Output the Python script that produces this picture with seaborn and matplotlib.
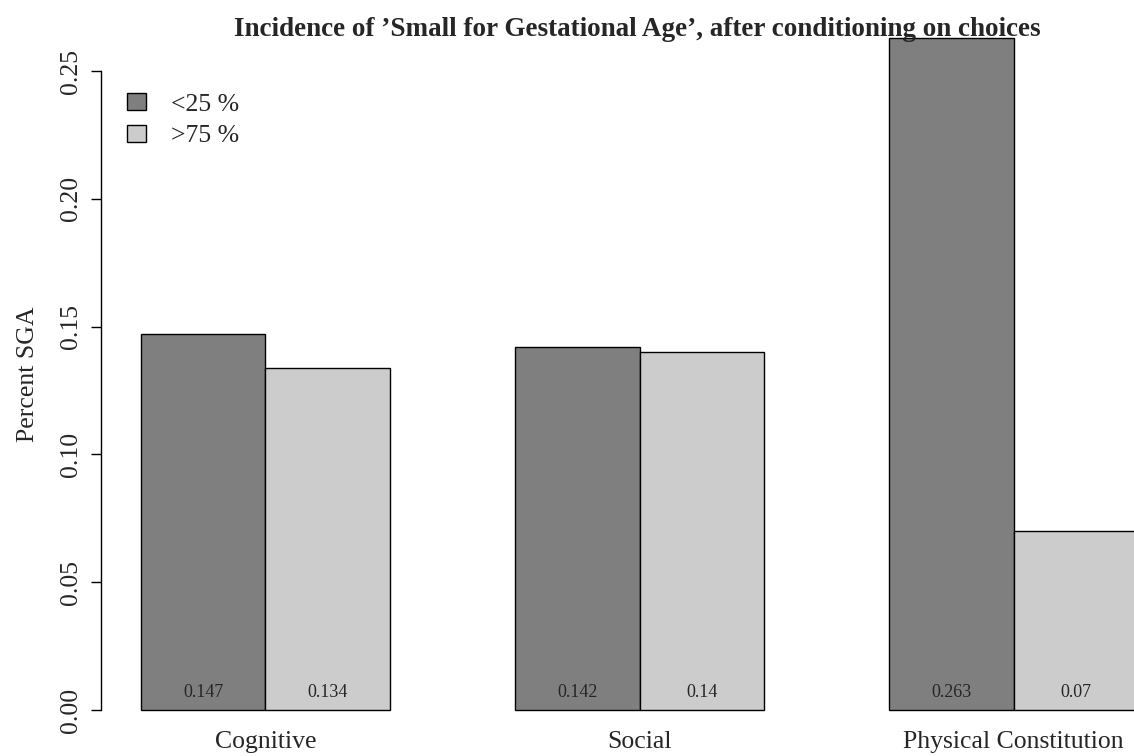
import matplotlib
matplotlib.use("Agg")
import matplotlib.pyplot as plt
import seaborn as sns
import pandas as pd

# %% data
domains = ["Cognitive", "Social", "Physical Constitution"]
groups = ["<25 %", ">75 %"]
sga_low = [0.147, 0.142, 0.263]
sga_high = [0.134, 0.14, 0.07]
y_ticks = [0.00, 0.05, 0.10, 0.15, 0.20, 0.25]

df = pd.DataFrame({
    "domain": domains * 2,
    "group": [groups[0]] * 3 + [groups[1]] * 3,
    "sga": sga_low + sga_high,
})

# %% plot
sns.set_theme(style = "white")
plt.rcParams["font.family"] = ["Liberation Serif", "DejaVu Serif"]

fig = plt.figure(figsize = (11.34, 7.56), dpi = 100)
ax = fig.add_axes([101 / 1134, 36 / 756, 1033 / 1134, 709 / 756])

sns.barplot(data = df, x = "domain", y = "sga", hue = "group",
            palette = ["#7f7f7f", "#cccccc"], width = 2 / 3, gap = 0,
            edgecolor = "black", linewidth = 1, errorbar = None, ax = ax)

ax.set_xlim(-0.4395, 2.3218)
ax.set_ylim(-0.0039, 0.2735)

for cont in ax.containers:
    for bar, val in zip(cont, cont.datavalues):
        ax.text(bar.get_x() + bar.get_width() / 2, 0.007, f"{val:g}",
                ha = "center", va = "center", fontsize = 13)

for s in ["top", "right", "bottom"]:
    ax.spines[s].set_visible(False)
ax.spines["left"].set_bounds(0, 0.25)
ax.spines["left"].set_color("black")
ax.spines["left"].set_linewidth(1)

ax.set_yticks(y_ticks)
ax.set_yticklabels([f"{t:.2f}" for t in y_ticks], rotation = 90, va = "center")
ax.tick_params(axis = "y", left = True, length = 7, width = 1, color = "black",
               labelsize = 18.5, pad = 7)
ax.tick_params(axis = "x", bottom = False, labelsize = 18.5, pad = 2)

ax.set_xlabel("")
ax.set_ylabel("Percent SGA", fontsize = 18.5)
ax.yaxis.set_label_coords(-0.060, 0.488)

leg = ax.legend(loc = "upper left", bbox_to_anchor = (0.003, 0.917), frameon = False,
                fontsize = 18.5, handlelength = 0.75, handleheight = 0.65,
                handletextpad = 0.95, labelspacing = 0.35)
for h in leg.legend_handles:
    h.set_edgecolor("black")

fig.text(637 / 1134, 1 - 29 / 756,
         "Incidence of \u2019Small for Gestational Age\u2019, after conditioning on choices",
         ha = "center", va = "center", fontsize = 19.5, fontweight = "bold")

fig.savefig("out.png", dpi = 100)
